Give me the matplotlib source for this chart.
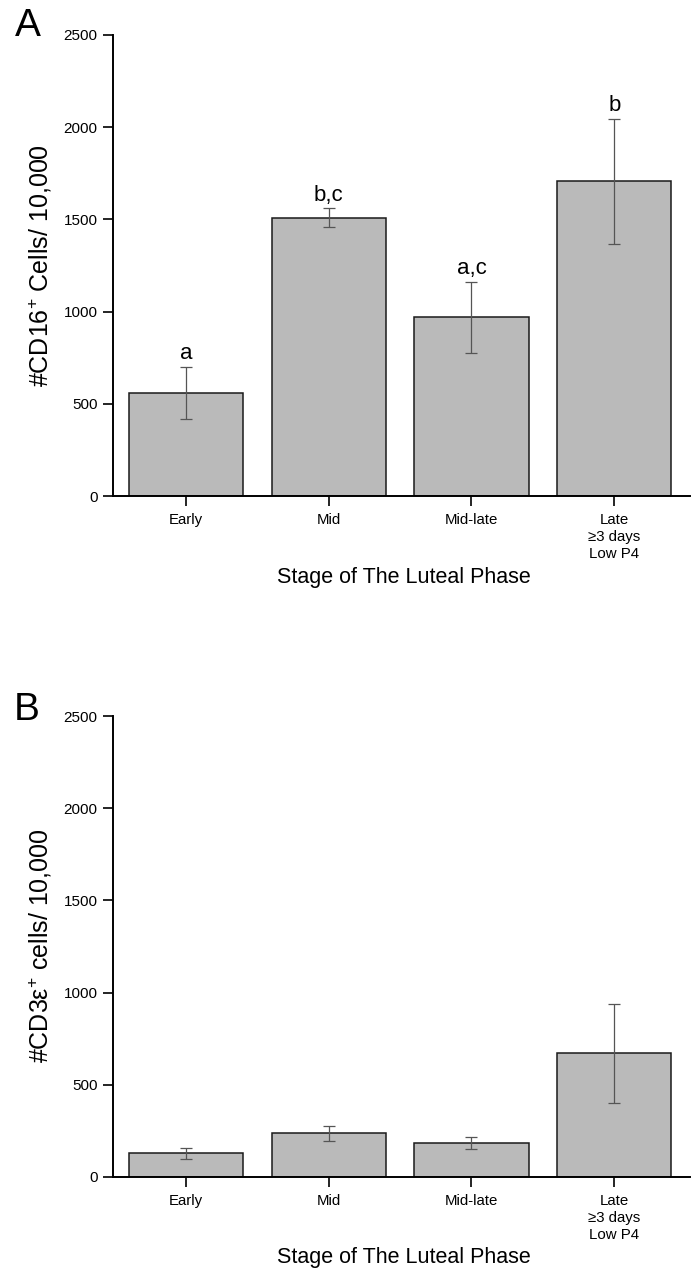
import matplotlib
matplotlib.use("Agg")
import matplotlib.pyplot as plt

plt.rcParams['font.family'] = ['Liberation Sans', 'DejaVu Sans']
plt.rcParams['mathtext.fontset'] = 'custom'
plt.rcParams['mathtext.rm'] = 'Liberation Sans'
plt.rcParams['mathtext.it'] = 'Liberation Sans'
plt.rcParams['mathtext.default'] = 'regular'

categories = ["Early", "Mid", "Mid-late", "Late\n\u22653 days\nLow P4"]

cd16_means = [560, 1510, 970, 1707]
cd16_err = [140, 50, 193, 338]
cd16_letters = ["a", "b,c", "a,c", "b"]

cd3_means = [129, 237, 183, 670]
cd3_err = [30, 41, 33, 269]

yticks = [0, 500, 1000, 1500, 2000, 2500]

W, H = 697, 1268
fig = plt.figure(figsize=(W / 100, H / 100), dpi=100)

def make_axes(top_px, bottom_px):
    left = 113 / W
    width = (690 - 113) / W
    bottom = 1 - bottom_px / H
    height = (bottom_px - top_px) / H
    return fig.add_axes([left, bottom, width, height])

def draw_panel(ax, means, errs, letters=None):
    x = list(range(len(categories)))
    ax.bar(x, means, width=0.8, color='#bababa', edgecolor='#1a1a1a', linewidth=1.1, zorder=2)
    ax.errorbar(x, means, yerr=errs, fmt='none', ecolor='#555555', elinewidth=0.9,
                capsize=4, capthick=0.9, zorder=3)
    ax.set_xlim(-0.51, 3.53)
    ax.set_ylim(0, 2500)
    ax.set_yticks(yticks)
    ax.set_xticks(x)
    ax.set_xticklabels(categories, fontsize=10.8, linespacing=1.3)
    ax.tick_params(axis='y', labelsize=11, length=7, width=1.2, pad=4)
    ax.tick_params(axis='x', length=7, width=1.2, pad=5)
    for s in ['top', 'right']:
        ax.spines[s].set_visible(False)
    for s in ['left', 'bottom']:
        ax.spines[s].set_linewidth(1.4)
    if letters:
        for xi, m, e, t in zip(x, means, errs, letters):
            ax.annotate(t, (xi, m + e), xytext=(0, 2), textcoords='offset points',
                        ha='center', va='bottom', fontsize=16)

axA = make_axes(35, 496)
draw_panel(axA, cd16_means, cd16_err, cd16_letters)
axB = make_axes(716, 1177)
draw_panel(axB, cd3_means, cd3_err)

fig.text(40 / W, 1 - 266 / H, r'#CD16$^{+}$ Cells/ 10,000', rotation=90,
         ha='center', va='center', fontsize=18)
fig.text(40 / W, 1 - 946 / H, r'#CD3$\varepsilon^{+}$ cells/ 10,000', rotation=90,
         ha='center', va='center', fontsize=18)
fig.text(404 / W, 1 - 577 / H, 'Stage of The Luteal Phase', ha='center', va='center', fontsize=15.5)
fig.text(404 / W, 1 - 1257 / H, 'Stage of The Luteal Phase', ha='center', va='center', fontsize=15.5)

fig.text(28 / W, 1 - 26 / H, 'A', ha='center', va='center', fontsize=28)
fig.text(27 / W, 1 - 710 / H, 'B', ha='center', va='center', fontsize=28)

fig.savefig('out.png', dpi=100, facecolor='white')
